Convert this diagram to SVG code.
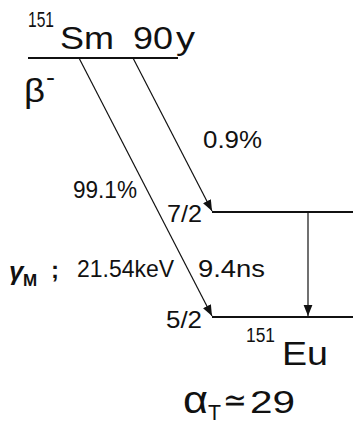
<svg xmlns="http://www.w3.org/2000/svg" width="353" height="429" viewBox="0 0 353 429">
<style>
text{font-family:"Liberation Sans",Arial,sans-serif;fill:#111}
.lv{stroke:#111;stroke-width:2}
.ar{stroke:#111;stroke-width:1.2;fill:none;marker-end:url(#ah)}
</style>
<defs>
<marker id="ah" viewBox="0 0 10 10" refX="10" refY="5" markerWidth="11" markerHeight="11" markerUnits="userSpaceOnUse" orient="auto">
<path d="M0,1 L10,5 L0,9 z" fill="#111"/>
</marker>
</defs>
<g id="sm">
<line class="lv" x1="28" y1="58" x2="178" y2="58"/>
<text x="28" y="27" font-size="22" textLength="26" lengthAdjust="spacingAndGlyphs">151</text>
<text x="60" y="49" font-size="31" textLength="54" lengthAdjust="spacingAndGlyphs">Sm</text>
<text x="133" y="49" font-size="31" textLength="40" lengthAdjust="spacingAndGlyphs">90</text>
<text x="176" y="49" font-size="31" textLength="19" lengthAdjust="spacingAndGlyphs">y</text>
<text x="24" y="102" font-size="34" textLength="21" lengthAdjust="spacingAndGlyphs">β</text>
<text x="46" y="85" font-size="24" textLength="9" lengthAdjust="spacingAndGlyphs">-</text>
</g>
<g id="l72">
<line class="lv" x1="212" y1="212" x2="353" y2="212"/>
<text x="167" y="222" font-size="24" textLength="35" lengthAdjust="spacingAndGlyphs">7/2</text>
</g>
<g id="l52">
<line class="lv" x1="212" y1="317" x2="353" y2="317"/>
<text x="166" y="328" font-size="24" textLength="36" lengthAdjust="spacingAndGlyphs">5/2</text>
</g>
<g id="connectors">
<line class="ar" x1="79" y1="58" x2="212" y2="316"/>
<line class="ar" x1="133" y1="58" x2="212" y2="211"/>
<line class="ar" x1="308" y1="212" x2="308" y2="316"/>
</g>
<g id="labels">
<text x="203" y="148" font-size="24" textLength="59" lengthAdjust="spacingAndGlyphs">0.9%</text>
<text x="73" y="198" font-size="24" textLength="64" lengthAdjust="spacingAndGlyphs">99.1%</text>
<text x="9" y="280" font-size="26" font-style="italic" font-weight="bold">γ</text>
<text x="23" y="286" font-size="17" font-weight="bold">M</text>
<text x="51" y="278" font-size="24" font-weight="bold">;</text>
<text x="77" y="277" font-size="24" textLength="97" lengthAdjust="spacingAndGlyphs">21.54keV</text>
<text x="198" y="277" font-size="24" textLength="67" lengthAdjust="spacingAndGlyphs">9.4ns</text>
<text x="246" y="342" font-size="20" textLength="29" lengthAdjust="spacingAndGlyphs">151</text>
<text x="282" y="365" font-size="34" textLength="46" lengthAdjust="spacingAndGlyphs">Eu</text>
<text x="183" y="413" font-size="38" textLength="25" lengthAdjust="spacingAndGlyphs">α</text>
<text x="208" y="420" font-size="22" textLength="13" lengthAdjust="spacingAndGlyphs">T</text>
<text x="223" y="411" font-size="32" textLength="24" lengthAdjust="spacingAndGlyphs">≃</text>
<text x="250" y="413" font-size="32" textLength="45" lengthAdjust="spacingAndGlyphs">29</text>
</g>
</svg>
